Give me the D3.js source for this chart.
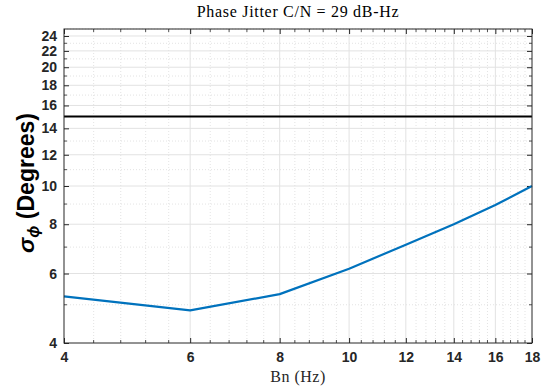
<!DOCTYPE html>
<html>
<head>
<meta charset="utf-8">
<script src="https://cdn.jsdelivr.net/npm/d3@7"></script>
<style>
  html, body { margin: 0; padding: 0; background: #fff; }
  svg { display: block; }
</style>
</head>
<body>
<svg id="chart" width="543" height="390"></svg>
<script>
// Loop noise bandwidth (Hz) and resulting phase jitter (degrees)
const bandwidth = [4, 6, 8, 10, 12, 14, 16, 18];
const jitterDeg = [5.25, 4.84, 5.32, 6.17, 7.1, 8.0, 8.95, 10.0];
const threshold = 15;

const xTicks = [4, 6, 8, 10, 12, 14, 16, 18];
const yTicks = [4, 6, 8, 10, 12, 14, 16, 18, 20, 22, 24];
const xMinor = d3.range(4.4, 18, 0.4).filter(v => Math.abs(v / 2 - Math.round(v / 2)) > 0.05);
const yMinor = d3.range(5, 26, 2);

const W = 543, H = 390;
const m = { top: 29, right: 11, bottom: 47, left: 64 };
const iw = W - m.left - m.right, ih = H - m.top - m.bottom;

const svg = d3.select("#chart");
const g = svg.append("g").attr("transform", `translate(${m.left},${m.top})`);

const x = d3.scaleLog().domain([4, 18]).range([0, iw]);
const y = d3.scaleLog().domain([4, 25]).range([ih, 0]);

// grid: minor dotted, major solid
const grid = g.append("g");
grid.selectAll(".vminor").data(xMinor).join("line")
  .attr("x1", d => x(d)).attr("x2", d => x(d)).attr("y1", 0).attr("y2", ih)
  .attr("stroke", "#dcdcdc").attr("stroke-width", 0.8).attr("stroke-dasharray", "1,2");
grid.selectAll(".hminor").data(yMinor).join("line")
  .attr("y1", d => y(d)).attr("y2", d => y(d)).attr("x1", 0).attr("x2", iw)
  .attr("stroke", "#dcdcdc").attr("stroke-width", 0.8).attr("stroke-dasharray", "1,2");
grid.selectAll(".vmajor").data(xTicks.slice(1, -1)).join("line")
  .attr("x1", d => x(d)).attr("x2", d => x(d)).attr("y1", 0).attr("y2", ih)
  .attr("stroke", "#e2e2e2").attr("stroke-width", 1);
grid.selectAll(".hmajor").data(yTicks.slice(1)).join("line")
  .attr("y1", d => y(d)).attr("y2", d => y(d)).attr("x1", 0).attr("x2", iw)
  .attr("stroke", "#e2e2e2").attr("stroke-width", 1);

// axes with inward ticks
const axisColor = "#262626";
const tickFont = "bold 14px 'Liberation Sans', Arial, sans-serif";

function styleAxis(sel) {
  sel.select(".domain").remove();
  sel.selectAll("line").attr("stroke", axisColor);
  sel.selectAll("text").attr("fill", axisColor).style("font", tickFont);
}

const xAxisB = g.append("g").attr("transform", `translate(0,${ih})`)
  .call(d3.axisBottom(x).tickValues(xTicks).tickFormat(d3.format("d")).tickSizeInner(-5).tickSizeOuter(0).tickPadding(9));
styleAxis(xAxisB);
const xAxisT = g.append("g")
  .call(d3.axisTop(x).tickValues(xTicks).tickFormat("").tickSizeInner(-5).tickSizeOuter(0));
styleAxis(xAxisT);
const yAxisL = g.append("g")
  .call(d3.axisLeft(y).tickValues(yTicks).tickFormat(d3.format("d")).tickSizeInner(-5).tickSizeOuter(0).tickPadding(7));
styleAxis(yAxisL);
const yAxisR = g.append("g").attr("transform", `translate(${iw},0)`)
  .call(d3.axisRight(y).tickValues(yTicks).tickFormat("").tickSizeInner(-5).tickSizeOuter(0));
styleAxis(yAxisR);

// minor ticks
const mt = g.append("g").attr("stroke", axisColor).attr("stroke-width", 0.8);
mt.selectAll(".xb").data(xMinor).join("line")
  .attr("x1", d => x(d)).attr("x2", d => x(d)).attr("y1", ih).attr("y2", ih - 3);
mt.selectAll(".xt").data(xMinor).join("line")
  .attr("x1", d => x(d)).attr("x2", d => x(d)).attr("y1", 0).attr("y2", 3);
mt.selectAll(".yl").data(yMinor.filter(v => v < 25)).join("line")
  .attr("y1", d => y(d)).attr("y2", d => y(d)).attr("x1", 0).attr("x2", 3);
mt.selectAll(".yr").data(yMinor.filter(v => v < 25)).join("line")
  .attr("y1", d => y(d)).attr("y2", d => y(d)).attr("x1", iw).attr("x2", iw - 3);

// threshold line
g.append("line")
  .attr("x1", 0).attr("x2", iw).attr("y1", y(threshold)).attr("y2", y(threshold))
  .attr("stroke", "#000").attr("stroke-width", 2);

// jitter curve
g.append("path").datum(bandwidth.map((b, i) => [b, jitterDeg[i]]))
  .attr("fill", "none").attr("stroke", "#0072bd").attr("stroke-width", 2.2)
  .attr("stroke-linejoin", "round")
  .attr("d", d3.line().x(d => x(d[0])).y(d => y(d[1])));

// plot box
g.append("rect").attr("width", iw).attr("height", ih)
  .attr("fill", "none").attr("stroke", axisColor).attr("stroke-width", 1);

// title and axis labels
svg.append("text").attr("x", m.left + iw / 2).attr("y", 17)
  .attr("text-anchor", "middle")
  .style("font", "16px 'Liberation Serif', 'Times New Roman', serif")
  .style("letter-spacing", "0.7px").attr("fill", "#000")
  .text("Phase Jitter C/N = 29 dB-Hz");

svg.append("text").attr("x", m.left + iw / 2).attr("y", 382)
  .attr("text-anchor", "middle")
  .style("font", "16px 'Liberation Serif', 'Times New Roman', serif")
  .style("letter-spacing", "0.5px").attr("fill", "#262626")
  .text("Bn (Hz)");

const yl = svg.append("text")
  .attr("transform", `translate(34,183) rotate(-90)`)
  .attr("text-anchor", "middle")
  .style("font", "bold 23px 'Liberation Sans', Arial, sans-serif").attr("fill", "#000");
yl.append("tspan").style("font-style", "italic").text("σ");
yl.append("tspan").style("font-style", "italic").style("font-size", "16px").attr("dy", 5).text("ϕ");
yl.append("tspan").attr("dy", -5).text(" (Degrees)");
</script>
</body>
</html>
